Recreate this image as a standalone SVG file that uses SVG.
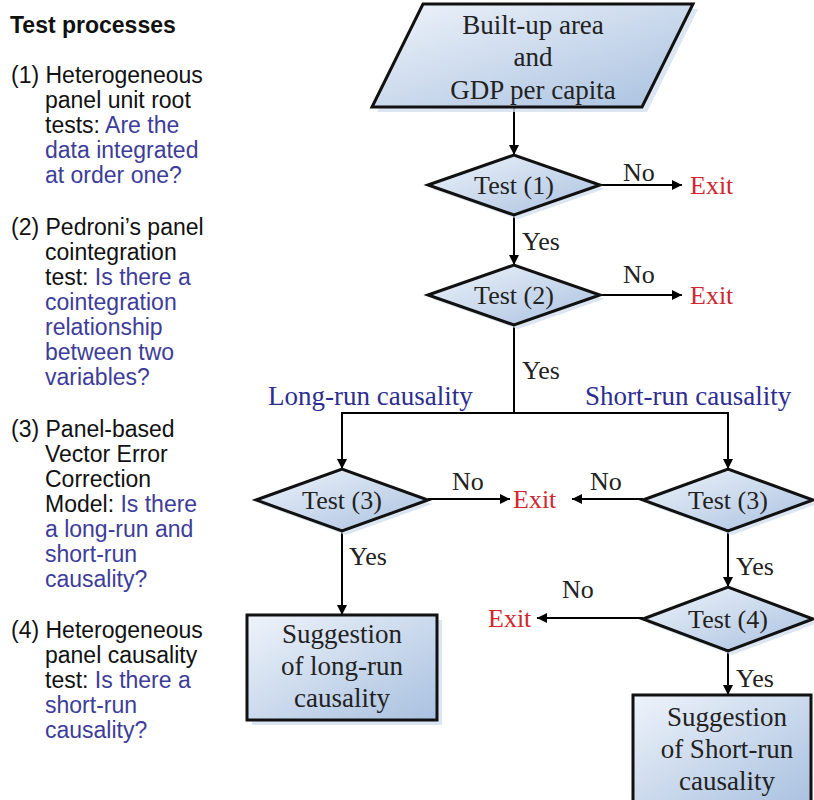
<svg xmlns="http://www.w3.org/2000/svg" width="814" height="800" viewBox="0 0 814 800">
<defs>
<linearGradient id="fillg" x1="0" y1="0" x2="1" y2="1">
<stop offset="0" stop-color="#eef3fa"/>
<stop offset="1" stop-color="#a9c1e0"/>
</linearGradient>
<marker id="arr" viewBox="0 0 10 10" refX="10" refY="5" markerWidth="10" markerHeight="10" markerUnits="userSpaceOnUse" orient="auto">
<path d="M0,0 L10,5 L0,10 z" fill="#000"/>
</marker>
<style>
.node{fill:url(#fillg);stroke:#111;stroke-width:3}
.shadow{fill:#d3dfef;opacity:0.8}
.t{font-family:"Liberation Serif","Times New Roman",serif;font-size:26px;fill:#222;text-anchor:middle}
.big{font-size:27px}
.box{font-size:27px}
.lbl{font-family:"Liberation Serif","Times New Roman",serif;font-size:26px;fill:#222}
.exit{font-family:"Liberation Serif","Times New Roman",serif;font-size:26px;fill:#d0262f}
.cause{font-family:"Liberation Serif","Times New Roman",serif;font-size:27px;fill:#2d2d8f}
.side{font-family:"Liberation Sans",Arial,sans-serif;font-size:23px;fill:#111}
.q{fill:#3d3d99}
.conn{stroke:#000;stroke-width:2;fill:none}
</style>
</defs>
<rect width="814" height="800" fill="#fff"/>

<g id="legend">
<text class="side" x="10" y="33" font-weight="bold" font-size="25">Test processes</text>
<text class="side" x="11" y="83">(1) Heterogeneous</text>
<text class="side" x="45" y="108">panel unit root</text>
<text class="side" x="45" y="133">tests: <tspan class="q">Are the</tspan></text>
<text class="side q" x="45" y="158">data integrated</text>
<text class="side q" x="45" y="183">at order one?</text>
<text class="side" x="11" y="235">(2) Pedroni’s panel</text>
<text class="side" x="45" y="260">cointegration</text>
<text class="side" x="45" y="285">test: <tspan class="q">Is there a</tspan></text>
<text class="side q" x="45" y="310">cointegration</text>
<text class="side q" x="45" y="335">relationship</text>
<text class="side q" x="45" y="360">between two</text>
<text class="side q" x="45" y="385">variables?</text>
<text class="side" x="11" y="437">(3) Panel-based</text>
<text class="side" x="45" y="462">Vector Error</text>
<text class="side" x="45" y="487">Correction</text>
<text class="side" x="45" y="512">Model: <tspan class="q">Is there</tspan></text>
<text class="side q" x="45" y="537">a long-run and</text>
<text class="side q" x="45" y="562">short-run</text>
<text class="side q" x="45" y="587">causality?</text>
<text class="side" x="11" y="638">(4) Heterogeneous</text>
<text class="side" x="45" y="663">panel causality</text>
<text class="side" x="45" y="688">test: <tspan class="q">Is there a</tspan></text>
<text class="side q" x="45" y="713">short-run</text>
<text class="side q" x="45" y="738">causality?</text>
</g>

<g id="connectors">
<line class="conn" x1="514" y1="107" x2="514" y2="155" marker-end="url(#arr)"/>
<line class="conn" x1="514" y1="215" x2="514" y2="265" marker-end="url(#arr)"/>
<line class="conn" x1="600" y1="185" x2="682" y2="185" marker-end="url(#arr)"/>
<line class="conn" x1="600" y1="295" x2="682" y2="295" marker-end="url(#arr)"/>
<polyline class="conn" points="514,325 514,413"/>
<polyline class="conn" points="514,413 342,413 342,469" marker-end="url(#arr)"/>
<polyline class="conn" points="514,413 728,413 728,469" marker-end="url(#arr)"/>
<line class="conn" x1="428" y1="499" x2="510" y2="499" marker-end="url(#arr)"/>
<line class="conn" x1="643" y1="499" x2="572" y2="499" marker-end="url(#arr)"/>
<line class="conn" x1="342" y1="531" x2="342" y2="615" marker-end="url(#arr)"/>
<line class="conn" x1="728" y1="531" x2="728" y2="587" marker-end="url(#arr)"/>
<line class="conn" x1="643" y1="618" x2="537" y2="618" marker-end="url(#arr)"/>
<line class="conn" x1="728" y1="651" x2="728" y2="695" marker-end="url(#arr)"/>
<text class="lbl" x="623" y="181">No</text>
<text class="lbl" x="623" y="283">No</text>
<text class="lbl" x="522" y="250">Yes</text>
<text class="lbl" x="522" y="379">Yes</text>
<text class="cause" x="268" y="405">Long-run causality</text>
<text class="cause" x="585" y="405">Short-run causality</text>
<text class="lbl" x="452" y="490">No</text>
<text class="lbl" x="590" y="490">No</text>
<text class="lbl" x="349" y="565">Yes</text>
<text class="lbl" x="736" y="575">Yes</text>
<text class="lbl" x="562" y="598">No</text>
<text class="lbl" x="736" y="687">Yes</text>
</g>

<g id="input">
<polygon class="shadow" points="428,9 698,9 647,112 377,112"/>
<polygon class="node" points="423,4 693,4 642,107 372,107"/>
<text class="t big" x="533" y="34">Built-up area</text>
<text class="t big" x="533" y="66">and</text>
<text class="t big" x="533" y="99">GDP per capita</text>
</g>

<g id="test1">
<polygon class="shadow" points="432,189 518,159 604,189 518,219"/>
<polygon class="node" points="428,185 514,155 600,185 514,215"/>
<text class="t" x="514" y="194">Test (1)</text>
</g>
<g id="exit1"><text class="exit" x="690" y="194">Exit</text></g>

<g id="test2">
<polygon class="shadow" points="432,299 518,269 604,299 518,329"/>
<polygon class="node" points="428,295 514,265 600,295 514,325"/>
<text class="t" x="514" y="304">Test (2)</text>
</g>
<g id="exit2"><text class="exit" x="690" y="304">Exit</text></g>

<g id="test3long">
<polygon class="shadow" points="260,504 346,473 432,504 346,535"/>
<polygon class="node" points="256,500 342,469 428,500 342,531"/>
<text class="t" x="342" y="509">Test (3)</text>
</g>
<g id="exit3"><text class="exit" x="513" y="508">Exit</text></g>

<g id="test3short">
<polygon class="shadow" points="647,504 732,473 817,504 732,535"/>
<polygon class="node" points="643,500 728,469 813,500 728,531"/>
<text class="t" x="728" y="509">Test (3)</text>
</g>

<g id="test4">
<polygon class="shadow" points="647,623 732,591 817,623 732,655"/>
<polygon class="node" points="643,619 728,587 813,619 728,651"/>
<text class="t" x="728" y="628">Test (4)</text>
</g>
<g id="exit4"><text class="exit" x="488" y="627">Exit</text></g>

<g id="longrun">
<rect class="shadow" x="252" y="620" width="190" height="105"/>
<rect class="node" x="247" y="615" width="190" height="105"/>
<text class="t box" x="342" y="643">Suggestion</text>
<text class="t box" x="342" y="675">of long-run</text>
<text class="t box" x="342" y="707">causality</text>
</g>

<g id="shortrun">
<rect class="node" x="633" y="695" width="178" height="110"/>
<text class="t box" x="727" y="726">Suggestion</text>
<text class="t box" x="727" y="758">of Short-run</text>
<text class="t box" x="727" y="790">causality</text>
</g>
</svg>
